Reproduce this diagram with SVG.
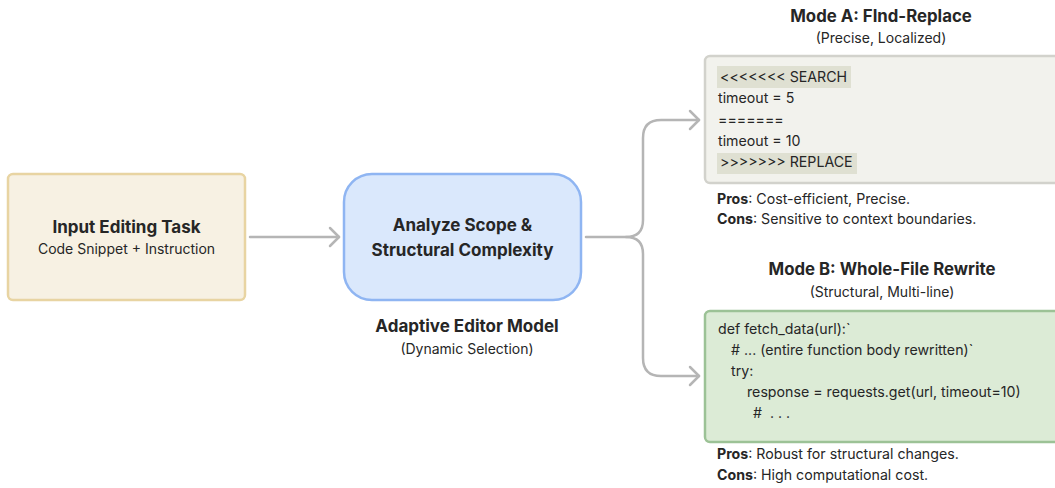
<svg xmlns="http://www.w3.org/2000/svg" width="1055" height="488" viewBox="0 0 1055 488">
  <style>
    text { font-family: Inter, "Noto Sans", "Liberation Sans", sans-serif; fill: #262626; }
    .title { font-size: 17px; font-weight: 700; }
    .head { font-size: 16.8px; font-weight: 700; }
    .sub { font-size: 14px; }
    .code { font-size: 14.2px; }
    .note { font-size: 14.2px; }
    .note tspan.b { font-weight: 700; }
    .wire { fill: none; stroke: #b5b5b5; stroke-width: 2.5; stroke-linecap: round; stroke-linejoin: round; }
    .hl { fill: #dfe0d2; }
  </style>

  <!-- connectors -->
  <g id="connectors">
    <path class="wire" d="M250 237 H339"/>
    <polyline class="wire" points="330,228 339,237 330,246"/>
    <path class="wire" d="M586 237 H626 Q643 237 643 220 V138 Q643 120 661 120 H699"/>
    <polyline class="wire" points="690,111 699,120 690,129"/>
    <path class="wire" d="M626 237 Q643 237 643 254 V358 Q643 376 661 376 H699"/>
    <polyline class="wire" points="690,367 699,376 690,385"/>
  </g>

  <!-- input task -->
  <g id="input-task">
    <rect x="8" y="174" width="237" height="126" rx="5" fill="#f7f1e3" stroke="#e8d4a2" stroke-width="2.5"/>
    <text class="title" x="126.5" y="233" text-anchor="middle">Input Editing Task</text>
    <text class="sub" x="126.5" y="254" text-anchor="middle">Code Snippet + Instruction</text>
  </g>

  <!-- adaptive editor model -->
  <g id="editor-model">
    <rect x="344" y="174" width="237" height="126" rx="28" fill="#dae8fc" stroke="#8fb5f2" stroke-width="2.5"/>
    <text class="title" x="462.5" y="231" text-anchor="middle">Analyze Scope &amp;</text>
    <text class="title" x="462.5" y="256" text-anchor="middle">Structural Complexity</text>
    <text class="title" x="467" y="332" text-anchor="middle">Adaptive Editor Model</text>
    <text class="sub" x="467" y="354" text-anchor="middle">(Dynamic Selection)</text>
  </g>

  <!-- mode A -->
  <g id="mode-a">
    <text class="head" x="881" y="22" text-anchor="middle">Mode A: FInd-Replace</text>
    <text class="sub" x="881" y="43" text-anchor="middle">(Precise, Localized)</text>
    <rect x="705" y="56" width="354" height="127" rx="5" fill="#f2f2ed" stroke="#d2d2cc" stroke-width="2.5"/>
    <rect class="hl" x="717" y="66" width="134" height="22"/>
    <rect class="hl" x="717" y="153" width="140" height="21"/>
    <text class="code" x="720" y="82">&lt;&lt;&lt;&lt;&lt;&lt;&lt; SEARCH</text>
    <text class="code" x="718" y="103">timeout = 5</text>
    <text class="code" x="718" y="125">=======</text>
    <text class="code" x="718" y="146">timeout = 10</text>
    <text class="code" x="720" y="167">&gt;&gt;&gt;&gt;&gt;&gt;&gt; REPLACE</text>
    <text class="note" x="717" y="204"><tspan class="b">Pros</tspan>: Cost-efficient, Precise.</text>
    <text class="note" x="717" y="224"><tspan class="b">Cons</tspan>: Sensitive to context boundaries.</text>
  </g>

  <!-- mode B -->
  <g id="mode-b">
    <text class="head" x="882" y="275" text-anchor="middle">Mode B: Whole-File Rewrite</text>
    <text class="sub" x="882" y="297" text-anchor="middle">(Structural, Multi-line)</text>
    <rect x="705" y="311" width="354" height="131" rx="5" fill="#dcebd6" stroke="#9cc296" stroke-width="2.5"/>
    <text class="code" x="718" y="334">def fetch_data(url):`</text>
    <text class="code" x="731" y="355"># ... (entire function body rewritten)`</text>
    <text class="code" x="731" y="376">try:</text>
    <text class="code" x="747" y="397">response = requests.get(url, timeout=10)</text>
    <text class="code" x="753" y="418" xml:space="preserve">#  . . .</text>
    <text class="note" x="717" y="459"><tspan class="b">Pros</tspan>: Robust for structural changes.</text>
    <text class="note" x="717" y="480"><tspan class="b">Cons</tspan>: High computational cost.</text>
  </g>
</svg>
